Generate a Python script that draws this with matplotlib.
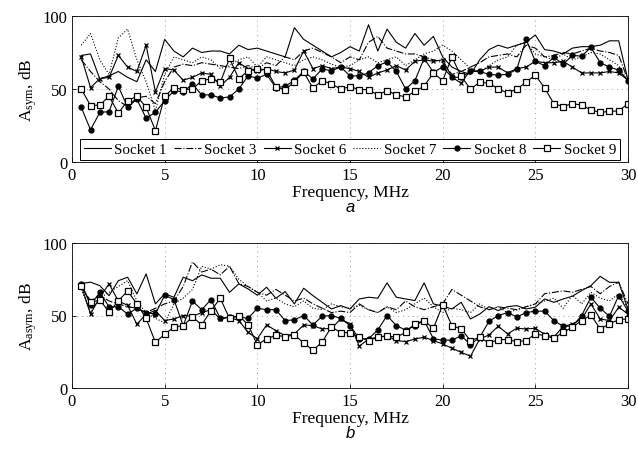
import numpy as np
import matplotlib
matplotlib.use("Agg")
import matplotlib.pyplot as plt

plt.rcParams['font.family'] = ['Liberation Serif', 'DejaVu Serif']
plt.rcParams['mathtext.fontset'] = 'custom'
plt.rcParams['mathtext.rm'] = 'Liberation Serif'
plt.rcParams['mathtext.it'] = 'Liberation Serif:italic'

freq = np.arange(1, 61) * 0.5

labels = ['Socket 1', 'Socket 3', 'Socket 6', 'Socket 7', 'Socket 8', 'Socket 9']

# Panel a: A_sym
sym_s1 = [73, 74, 57, 59, 62, 58, 55, 70, 62, 84, 76, 72, 78, 75, 76, 76, 74, 80, 77, 78,
          76, 74, 72, 92, 84, 80, 76, 72, 75, 79, 76, 94, 76, 91, 82, 78, 88, 80, 86, 72,
          65, 62, 60, 70, 77, 80, 78, 80, 82, 87, 77, 76, 74, 78, 79, 79, 80, 83, 83, 56]
sym_s3 = [70, 62, 55, 50, 42, 38, 44, 45, 40, 55, 65, 67, 66, 68, 67, 66, 65, 64, 66, 64,
          68, 66, 72, 70, 76, 78, 75, 72, 68, 72, 70, 82, 86, 78, 76, 74, 74, 72, 70, 68,
          60, 62, 65, 68, 72, 73, 74, 72, 80, 78, 72, 73, 75, 74, 76, 78, 76, 75, 73, 56]
sym_s6 = [72, 51, 57, 58, 73, 65, 62, 80, 48, 64, 63, 56, 58, 61, 60, 52, 58, 68, 64, 62,
          64, 62, 61, 63, 76, 64, 66, 64, 65, 64, 62, 58, 61, 63, 66, 63, 69, 70, 69, 70,
          58, 54, 63, 62, 65, 65, 61, 64, 65, 69, 68, 68, 69, 65, 61, 61, 61, 62, 61, 56]
sym_s7 = [80, 88, 70, 60, 85, 91, 70, 55, 35, 60, 72, 70, 68, 72, 70, 64, 66, 70, 72, 65,
          72, 70, 68, 66, 70, 72, 70, 67, 65, 66, 70, 72, 68, 70, 72, 66, 70, 74, 76, 80,
          76, 70, 64, 62, 66, 70, 72, 80, 82, 74, 72, 70, 74, 70, 72, 75, 74, 70, 66, 55]
sym_s8 = [37.5, 22, 34, 34.5, 51.8, 37.5, 43, 30, 34, 42, 48.8, 48, 53.4, 45.9, 46, 43.8,
          44.6, 50, 59, 57.5, 60, 51, 51.8, 56, 62, 57, 63.7, 62.5, 65, 59, 59, 61, 66, 68.5,
          62, 50, 55.7, 71, 61.4, 65, 58, 58, 62, 62, 60, 59.6, 60, 63.5, 84, 69, 66, 71.7,
          67, 73, 72.5, 78.5, 68, 65, 63, 55.7]
sym_s9 = [50, 38.6, 39, 45, 33.5, 42, 45, 37.5, 21.5, 45, 51, 49.5, 50, 55.7, 57, 54.6, 71,
          57, 62.5, 64, 63, 51.6, 49.3, 55, 61.5, 50.7, 55.7, 53.5, 50, 51.6, 49.6, 49.6, 46,
          48.9, 46, 44.6, 48.3, 52, 61, 55.7, 72, 58.6, 50, 54.6, 54, 50, 47.3, 50, 54.6,
          59.6, 50.7, 40, 38, 40, 39, 35.6, 34, 34.7, 35, 40]

# Panel b: A_asym
asym_s1 = [72, 73, 70.6, 63.7, 74, 76.4, 64.9, 78.7, 58, 64.9, 62.6, 76.4, 74, 78, 75.7, 75.7,
           66, 71.8, 68.3, 64, 69.5, 61.9, 66.5, 58, 68.8, 63.7, 59.1, 54.5, 56.8, 54.5, 61.4,
           62.6, 61.9, 72.5, 62.6, 61.4, 60.3, 72.5, 58, 56.5, 54.5, 59.1, 47.6, 51, 56.1, 53.4,
           56.1, 56.8, 54.5, 55.7, 61.4, 59.1, 61.4, 63.3, 67.2, 70.6, 77, 72.9, 72.9, 54.5]
asym_s3 = [70, 60, 64, 60, 58, 56, 55, 52, 55, 58, 60, 70, 87, 80, 82, 78, 84, 72, 70, 66,
           64, 68, 64, 60, 62, 58, 55, 52, 53, 52, 58, 54, 52, 56, 54, 60, 56, 54, 56, 58,
           68, 64, 60, 56, 54, 56, 55, 54, 56, 58, 65, 66, 67, 66, 68, 70, 65, 70, 73, 58]
asym_s6 = [70.6, 51, 62.6, 71.8, 60, 57, 44, 51, 53.4, 46.5, 47.6, 50, 49.5, 52, 54, 47.6,
           48.8, 46.5, 38.4, 34, 43.5, 39.6, 36, 37.3, 43.5, 43, 40.7, 41.2, 47.6, 44.2, 28.8,
           33.8, 35, 36, 32.7, 32, 33.8, 35, 32.7, 30.4, 27.4, 24.6, 21.9, 33.8, 36.6, 42.6,
           37.3, 41.2, 40.7, 41.2, 37, 35, 42.6, 44, 47.6, 58, 47.6, 46.5, 55.7, 51]
asym_s7 = [68, 52, 62, 66, 70, 74, 60, 52, 48, 45, 58, 62, 68, 84, 82, 85, 84, 75, 70, 66,
           60, 62, 58, 56, 60, 55, 54, 58, 56, 55, 57, 54, 52, 56, 52, 54, 58, 62, 56, 52,
           55, 54, 52, 58, 54, 56, 52, 54, 56, 58, 60, 62, 55, 64, 58, 66, 62, 60, 65, 55]
asym_s8 = [72, 57, 66, 56, 56, 51, 55, 52, 51, 64, 61, 43, 60, 54, 61, 48, 49, 49, 48, 55,
           54, 54, 46.5, 47, 50, 43.5, 49.5, 50, 48, 43, 34, 34, 40, 50, 43, 40, 43, 46.5, 34, 33,
           33, 36, 30, 35, 46, 50, 52, 49, 52, 53, 53, 46.5, 42.6, 42.6, 50, 62.6, 55, 49.5,
           63.7, 53]
asym_s9 = [70.6, 59, 60.7, 52.4, 60, 67, 58, 48, 31.5, 37, 42, 43, 49, 43.6, 53.4, 61.8, 48,
           50, 43.6, 29.7, 34, 36.3, 35.5, 36.5, 31.2, 26, 31.7, 42.2, 38.2, 38.2, 35, 32.7, 35,
           36, 35, 38.4, 44.2, 46.5, 41.2, 57.3, 43, 40.7, 32.7, 35, 31, 33.4, 33.4, 32, 32.7,
           37.3, 36.1, 34.3, 38.4, 41.9, 46.5, 50.4, 40.7, 44.2, 47.2, 47.6]

xticks = [0, 5, 10, 15, 20, 25, 30]
yticks = [0, 50, 100]

styles = [
    dict(linestyle='-', marker=None),
    dict(linestyle='-.', marker=None),
    dict(linestyle='-', marker='x', markersize=3.5, markeredgewidth=0.9),
    dict(linestyle=':', marker=None),
    dict(linestyle='-', marker='o', markersize=3.5, markerfacecolor='black'),
    dict(linestyle='-', marker='s', markersize=4, markerfacecolor='white', markeredgewidth=0.9),
]

fig = plt.figure(figsize=(6.38, 4.52), dpi=100)
ax1 = fig.add_axes([72/638, 1-163/452, 556/638, 146/452])
ax2 = fig.add_axes([72/638, 1-389/452, 556/638, 145/452])

def setup(ax, series, ylab, letter):
    for data, lab, st in zip(series, labels, styles):
        ax.plot(freq, data, color='black', linewidth=0.8, label=lab, **st)
    ax.set_xlim(0, 30)
    ax.set_ylim(0, 100)
    ax.set_xticks(xticks)
    ax.set_yticks(yticks)
    ax.grid(True, color='#999999', linestyle=(0, (1, 4)), linewidth=0.7)
    ax.tick_params(direction='in', labelsize=12, length=3, width=0.6)
    for sp in ax.spines.values():
        sp.set_linewidth(0.6)
    ax.set_xlabel('Frequency, MHz', fontsize=12.5, labelpad=1)
    ax.set_ylabel(ylab, fontsize=12.5, labelpad=2)
    ax.text(0.5, -0.305, letter, transform=ax.transAxes, ha='center', va='center',
            fontsize=12, style='italic', family=['Liberation Sans', 'DejaVu Sans'])

setup(ax1, [sym_s1, sym_s3, sym_s6, sym_s7, sym_s8, sym_s9], r'A$_{\rm sym}$, dB', 'a')
setup(ax2, [asym_s1, asym_s3, asym_s6, asym_s7, asym_s8, asym_s9], r'A$_{\rm asym}$, dB', 'b')

leg = ax1.legend(loc='lower center', ncol=6, fontsize=10.8, frameon=True, fancybox=False,
                 edgecolor='black', framealpha=1, handlelength=1.8, handletextpad=0.25,
                 columnspacing=0.45, borderpad=0.25, borderaxespad=0.15)
leg.get_frame().set_linewidth(0.7)

fig.savefig('out.png', dpi=100)
